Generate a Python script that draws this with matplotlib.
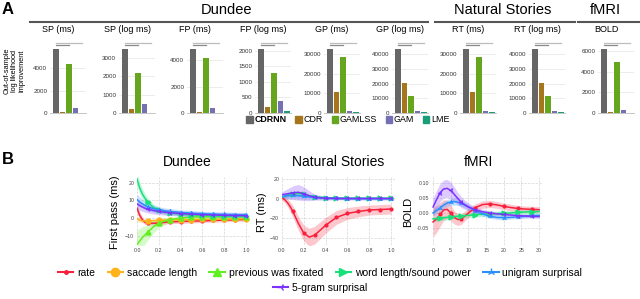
import numpy as np
import matplotlib
matplotlib.use('Agg')
import matplotlib.pyplot as plt
from matplotlib.lines import Line2D
from matplotlib.patches import Patch

plt.rcParams['font.family'] = ['Liberation Sans', 'DejaVu Sans']

W, H = 640, 299

# ---------------- panel A data ----------------
models = ['CDRNN', 'CDR', 'GAMLSS', 'GAM', 'LME']
model_colors = ['#666666', '#a6761d', '#66a61e', '#7570b3', '#1b9e77']

a_titles = ['SP (ms)', 'SP (log ms)', 'FP (ms)', 'FP (log ms)', 'GP (ms)',
            'GP (log ms)', 'RT (ms)', 'RT (log ms)', 'BOLD']
sp_ms = [5700, 100, 4350, 450, 0]
sp_log = [3500, 220, 2170, 500, 0]
fp_ms = [4850, 100, 4150, 380, 0]
fp_log = [2050, 180, 1280, 370, 80]
gp_ms = [32500, 10500, 28500, 1000, 500]
gp_log = [43500, 20700, 11700, 1600, 1000]
rt_ms = [32500, 10500, 28500, 1000, 500]
rt_log = [43500, 20700, 11700, 1600, 1000]
bold = [6200, 100, 4950, 300, 0]
a_values = [sp_ms, sp_log, fp_ms, fp_log, gp_ms, gp_log, rt_ms, rt_log, bold]
a_ticks = [[0, 2000, 4000], [0, 1000, 2000, 3000], [0, 2000, 4000],
           [0, 500, 1000, 1500, 2000], [0, 10000, 20000, 30000],
           [0, 10000, 20000, 30000, 40000], [0, 10000, 20000, 30000],
           [0, 10000, 20000, 30000, 40000], [0, 2000, 4000, 6000]]

# ---------------- panel B data ----------------
b_names = ['rate', 'saccade length', 'previous was fixated',
           'word length/sound power', 'unigram surprisal', '5-gram surprisal']
b_colors = ['#f8203c', '#ffb31a', '#5ef01f', '#18e07a', '#2b8fff', '#7a33ff']
b_markers = ['.', 'o', '^', '>', '2', '3']

# Dundee (first pass, ms)
t_dundee = [0, 0.025, 0.05, 0.075, 0.1, 0.15, 0.2, 0.25, 0.3, 0.4, 0.5, 0.6, 0.7, 0.8, 0.9, 1.0]
d_rate = [5.5, 1.5, -1, -2.5, -3, -3, -2.8, -2.5, -2.2, -2, -1.8, -1.6, -1.4, -1.2, -1, -0.8]
d_sacc = [-0.5, -1.2, -1.6, -1.7, -1.7, -1.5, -1.3, -1.2, -1.1, -1, -0.9, -0.8, -0.7, -0.6, -0.5, -0.4]
d_prev = [-15, -13, -11, -9.5, -8, -5, -3, -1.8, -1, 0, 0.5, 0.7, 0.8, 0.8, 0.8, 0.8]
d_word = [22, 17, 13.5, 11, 9, 6, 4.5, 3.5, 3, 2.2, 1.8, 1.5, 1.3, 1.1, 1, 0.9]
d_uni = [10.5, 9, 8, 7, 6.3, 5.3, 4.6, 4.1, 3.7, 3.1, 2.7, 2.4, 2.2, 2, 1.9, 1.8]
d_five = [8, 7, 6.2, 5.5, 5, 4.2, 3.7, 3.3, 3, 2.5, 2.2, 1.9, 1.7, 1.5, 1.4, 1.3]
d_rate_sd = [3, 2, 1.5, 1.2, 1, 1, 1, 1, 1, 1, 1, 1, 1, 1, 1, 1]
d_sacc_sd = [1.5, 1.2, 1, 1, 1, 0.8, 0.8, 0.8, 0.8, 0.8, 0.8, 0.8, 0.8, 0.8, 0.8, 0.8]
d_prev_sd = [8, 7, 6, 5, 4.5, 3.5, 2.5, 2, 1.5, 1, 1, 1, 1, 1, 1, 1]
d_word_sd = [4, 3.5, 3, 2.5, 2.2, 1.8, 1.5, 1.3, 1.2, 1, 1, 1, 1, 1, 1, 1]
d_uni_sd = [3, 2.7, 2.5, 2.3, 2.2, 2, 1.8, 1.7, 1.6, 1.5, 1.5, 1.4, 1.4, 1.4, 1.4, 1.4]
d_five_sd = [3, 2.7, 2.5, 2.3, 2.2, 2, 1.8, 1.7, 1.6, 1.5, 1.5, 1.4, 1.4, 1.4, 1.4, 1.4]

# Natural Stories (RT, ms)
t_ns = [0, 0.025, 0.05, 0.075, 0.1, 0.15, 0.2, 0.25, 0.3, 0.4, 0.5, 0.6, 0.7, 0.8, 0.9, 1.0]
n_rate = [1, -1, -4, -8, -13, -25, -35, -39, -37, -27, -19, -15, -13, -11.5, -11, -10.5]
n_word = [1.5, 2.5, 3.5, 4.5, 5, 5.5, 4.5, 3, 2, 1, 0.7, 0.5, 0.5, 0.5, 0.5, 0.5]
n_uni = [2, 2.5, 3, 3.2, 3.3, 3, 2.5, 1.8, 1.2, 0.5, 0.2, 0.1, 0, 0, 0, 0]
n_five = [4, 4.5, 5, 5.5, 6, 6.5, 5, 3, 1.5, 0.5, 0.3, 0.2, 0.2, 0.2, 0.2, 0.2]
n_rate_sd = [3, 3, 4, 5, 6, 7, 8, 9, 9, 8, 7, 6, 5.5, 5, 5, 5]
n_word_sd = [1.5, 1.5, 2, 2, 2, 2, 2, 1.5, 1.2, 1, 1, 1, 1, 1, 1, 1]
n_uni_sd = [2, 2.5, 3, 3, 3, 3, 2.5, 2, 1.5, 1, 1, 1, 1, 1, 1, 1]
n_five_sd = [3, 4, 5, 6, 7, 8, 7, 5, 3, 2, 1.5, 1.5, 1.5, 1.5, 1.5, 1.5]

# fMRI (BOLD)
t_fmri = [0, 1, 2, 3, 4, 5, 6, 7, 8, 9, 10, 12, 14, 16, 18, 20, 22, 24, 26, 28, 30]
f_rate = [-0.03, -0.02, -0.005, 0.01, 0.012, 0.0, -0.015, -0.022, -0.02, -0.01, 0.0,
          0.018, 0.028, 0.03, 0.027, 0.022, 0.018, 0.015, 0.013, 0.012, 0.011]
f_word = [-0.02, -0.019, -0.018, -0.016, -0.015, -0.013, -0.012, -0.011, -0.01, -0.009, -0.008,
          -0.006, -0.004, -0.003, -0.002, -0.001, 0.0, 0.002, 0.003, 0.004, 0.005]
f_uni = [0.0, 0.008, 0.017, 0.026, 0.033, 0.037, 0.038, 0.036, 0.032, 0.026, 0.02,
         0.008, -0.003, -0.011, -0.015, -0.016, -0.015, -0.013, -0.011, -0.009, -0.008]
f_five = [0.02, 0.045, 0.068, 0.08, 0.082, 0.075, 0.062, 0.048, 0.036, 0.027, 0.02,
          0.01, 0.004, 0.0, -0.003, -0.005, -0.007, -0.009, -0.01, -0.011, -0.012]
f_rate_sd = [0.05, 0.045, 0.04, 0.035, 0.03, 0.025, 0.022, 0.02, 0.018, 0.016, 0.015,
             0.013, 0.012, 0.012, 0.011, 0.011, 0.011, 0.01, 0.01, 0.01, 0.01]
f_word_sd = [0.008] * 21
f_uni_sd = [0.012, 0.012, 0.012, 0.012, 0.012, 0.012, 0.012, 0.011, 0.01, 0.01, 0.009,
            0.008, 0.008, 0.007, 0.007, 0.007, 0.006, 0.006, 0.006, 0.006, 0.006]
f_five_sd = [0.03, 0.03, 0.03, 0.03, 0.03, 0.028, 0.025, 0.02, 0.018, 0.015, 0.013,
             0.01, 0.008, 0.007, 0.006, 0.006, 0.006, 0.006, 0.006, 0.006, 0.006]


def fx(px):
    return px / W


def fy(py):
    return 1 - py / H


fig = plt.figure(figsize=(W / 100, H / 100), dpi=100)

# ---------------- panel A ----------------
a_left = [50, 119, 187, 255, 324, 392, 460, 529, 598]
for i in range(9):
    ax = fig.add_axes([fx(a_left[i]), fy(113), 36 / W, 68 / H])
    vals = a_values[i]
    ax.bar(range(5), vals, width=0.85, color=model_colors, zorder=3)
    ax.set_xlim(-0.89, 4.65)
    ax.set_ylim(0, max(vals) * 68 / 64)
    ax.set_yticks(a_ticks[i])
    ax.set_xticks([])
    ax.tick_params(length=0, pad=2, labelsize=4.5, labelcolor='#333333')
    ax.grid(axis='y', color='#e4e4e4', lw=0.5)
    ax.set_axisbelow(True)
    for s in ['top', 'right', 'left']:
        ax.spines[s].set_visible(False)
    ax.spines['bottom'].set_color('#bbbbbb')
    ax.spines['bottom'].set_linewidth(0.6)
    tr = ax.get_xaxis_transform()
    ax.plot([0, 4], [1.035, 1.035], transform=tr, color='#bdbdbd', lw=0.9, clip_on=False)
    ax.plot([0, 2], [1.0, 1.0], transform=tr, color='#8a8a8a', lw=0.9, clip_on=False)
    fig.text(fx(a_left[i] + 8), fy(29), a_titles[i], ha='center', va='center', fontsize=6.5)

fig.text(fx(2), fy(9), 'A', fontsize=12, fontweight='bold', ha='left', va='center')
fig.text(fx(15), fy(71), 'Out-of-sample\nlog likelihood\nimprovement', rotation=90,
         ha='center', va='center', fontsize=5.3, linespacing=1.1)

groups = [('Dundee', 227, 30, 428), ('Natural Stories', 503, 435, 575), ('fMRI', 605, 578, 640)]
for name, cx, x0, x1 in groups:
    fig.text(fx(cx), fy(10), name, ha='center', va='center', fontsize=10.5)
    fig.add_artist(Line2D([fx(x0), fx(x1)], [fy(22), fy(22)], transform=fig.transFigure,
                          color='#555555', lw=1.5))

handles = [Patch(color=c) for c in model_colors]
leg = fig.legend(handles, models, loc='center', bbox_to_anchor=(fx(348), fy(120)), ncol=5,
                 frameon=False, fontsize=6.4, handlelength=0.7, handleheight=0.7,
                 handletextpad=0.2, columnspacing=1.0, borderaxespad=0, borderpad=0)
leg.get_texts()[0].set_fontweight('bold')

# ---------------- panel B ----------------
mk_d = [4, 6, 8, 9, 10, 11, 12, 13, 14, 15]
mk_f = [2, 5, 8, 11, 13, 15, 17, 19]


def curve(ax, t, y, sd, k, mk):
    t = np.array(t)
    y = np.array(y)
    sd = np.array(sd)
    c = b_colors[k]
    ax.fill_between(t, y - sd, y + sd, color=c, alpha=0.25, lw=0)
    ax.plot(t, y, color=c, lw=1.1, marker=b_markers[k], markersize=3.5 if k != 0 else 4,
            markevery=mk)


def style_b(ax):
    for s in ax.spines.values():
        s.set_visible(False)
    ax.grid(color='#d6d6d6', lw=0.5, ls='--')
    ax.set_axisbelow(True)
    ax.tick_params(length=0, pad=2, labelsize=3.8, labelcolor='#444444')


axd = fig.add_axes([fx(137), fy(245), 113 / W, 68 / H])
curve(axd, t_dundee, d_rate, d_rate_sd, 0, mk_d)
curve(axd, t_dundee, d_sacc, d_sacc_sd, 1, mk_d)
curve(axd, t_dundee, d_prev, d_prev_sd, 2, mk_d)
curve(axd, t_dundee, d_word, d_word_sd, 3, mk_d)
curve(axd, t_dundee, d_uni, d_uni_sd, 4, mk_d)
curve(axd, t_dundee, d_five, d_five_sd, 5, mk_d)
axd.set_xlim(0, 1.037)
axd.set_ylim(-15.3, 23.2)
axd.set_yticks([-10, 0, 10, 20])
axd.set_xticks([0, 0.2, 0.4, 0.6, 0.8, 1.0])
style_b(axd)

axn = fig.add_axes([fx(282), fy(245), 113 / W, 68 / H])
curve(axn, t_ns, n_rate, n_rate_sd, 0, mk_d)
curve(axn, t_ns, n_word, n_word_sd, 3, mk_d)
curve(axn, t_ns, n_uni, n_uni_sd, 4, mk_d)
curve(axn, t_ns, n_five, n_five_sd, 5, mk_d)
axn.set_xlim(0, 1.037)
axn.set_ylim(-47, 22)
axn.set_yticks([-40, -20, 0, 20])
axn.set_xticks([0, 0.2, 0.4, 0.6, 0.8, 1.0])
style_b(axn)

axf = fig.add_axes([fx(432), fy(245), 111 / W, 68 / H])
curve(axf, t_fmri, f_rate, f_rate_sd, 0, mk_f)
curve(axf, t_fmri, f_word, f_word_sd, 3, mk_f)
curve(axf, t_fmri, f_uni, f_uni_sd, 4, mk_f)
curve(axf, t_fmri, f_five, f_five_sd, 5, mk_f)
axf.set_xlim(-0.3, 31.1)
axf.set_ylim(-0.107, 0.12)
axf.set_yticks([-0.05, 0, 0.05, 0.10])
axf.set_yticklabels(['-0.05', '0.00', '0.05', '0.10'])
axf.set_xticks([0, 5, 10, 15, 20, 25, 30])
style_b(axf)

fig.text(fx(2), fy(160), 'B', fontsize=12, fontweight='bold', ha='left', va='center')
for name, cx in [('Dundee', 187), ('Natural Stories', 338), ('fMRI', 478)]:
    fig.text(fx(cx), fy(162), name, ha='center', va='center', fontsize=10)
for name, cx in [('First pass (ms)', 115), ('RT (ms)', 262), ('BOLD', 408)]:
    fig.text(fx(cx), fy(212), name, rotation=90, ha='center', va='center', fontsize=8)

b_handles = [Line2D([], [], color=b_colors[k], marker=b_markers[k], lw=1.5,
                    markersize=6 if k != 0 else 5) for k in range(6)]
leg_kw = dict(loc='center', frameon=False, fontsize=7.5, handlelength=1.5,
              handletextpad=0.35, columnspacing=1.2, borderaxespad=0, borderpad=0)
fig.legend(b_handles[:5], b_names[:5], bbox_to_anchor=(fx(320), fy(273)), ncol=5, **leg_kw)
fig.legend(b_handles[5:], b_names[5:], bbox_to_anchor=(fx(320), fy(288)), ncol=1, **leg_kw)

fig.savefig('out.png', dpi=100)
